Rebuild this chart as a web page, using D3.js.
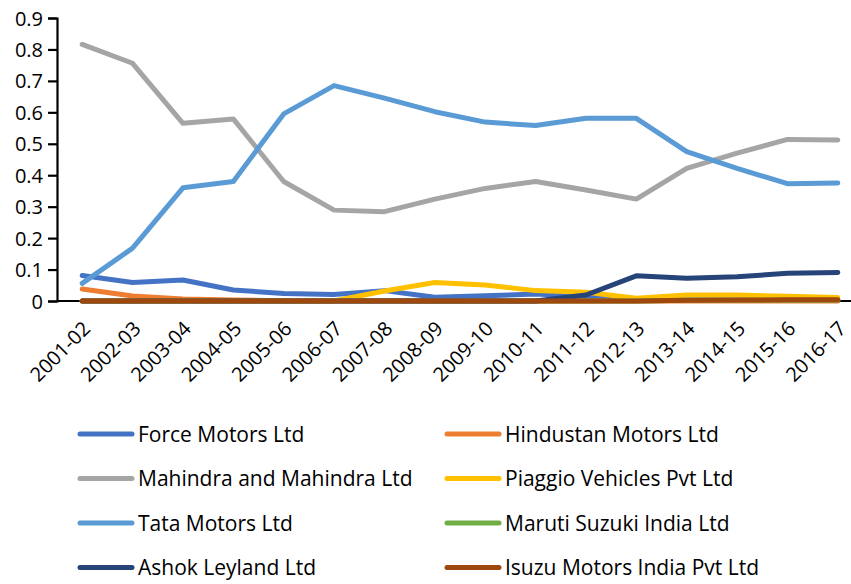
<!DOCTYPE html>
<html>
<head>
<meta charset="utf-8">
<script src="https://cdn.jsdelivr.net/npm/d3@7"></script>
<style>
    body { margin: 0; background: #fff; }
    svg text { font-family: "Open Sans", "Noto Sans", sans-serif; fill: #000; }
</style>
</head>
<body>
<svg id="chart" width="851" height="584"></svg>
<script>
// fiscal years on the x axis
const years = ['2001-02', '2002-03', '2003-04', '2004-05', '2005-06', '2006-07', '2007-08', '2008-09',
    '2009-10', '2010-11', '2011-12', '2012-13', '2013-14', '2014-15', '2015-16', '2016-17'];

const yTicks = [0, 0.1, 0.2, 0.3, 0.4, 0.5, 0.6, 0.7, 0.8, 0.9];

// share values
const forceMotors = [0.081, 0.059, 0.067, 0.035, 0.024, 0.021, 0.033, 0.012, 0.017, 0.022, 0.014, 0.004, 0.003, 0.003, 0.003, 0.003];
const hindustanMotors = [0.038, 0.016, 0.006, 0.003, 0.001, 0.001, 0.001, 0, 0, 0, 0, 0, 0, 0, 0, 0];
const mahindra = [0.816, 0.756, 0.565, 0.579, 0.38, 0.289, 0.284, 0.324, 0.358, 0.38, 0.353, 0.324, 0.422, 0.47, 0.514, 0.512];
const piaggio = [0, 0, 0, 0, 0, 0, 0.032, 0.059, 0.051, 0.033, 0.028, 0.009, 0.019, 0.019, 0.015, 0.011];
const tataMotors = [0.056, 0.168, 0.36, 0.38, 0.595, 0.685, 0.645, 0.602, 0.569, 0.558, 0.581, 0.581, 0.475, 0.422, 0.373, 0.375];
const maruti = [0, 0, 0, 0, 0, 0, 0, 0, 0, 0, 0, 0, 0.002, 0.002, 0.002, 0.002];
const ashokLeyland = [0, 0, 0, 0, 0, 0, 0, 0, 0, 0, 0.019, 0.08, 0.072, 0.077, 0.088, 0.091];
const isuzu = [0, 0, 0, 0, 0, 0, 0, 0, 0, 0, 0, 0, 0.002, 0.003, 0.004, 0.004];

const series = [
    { name: 'Force Motors Ltd', values: forceMotors, color: '#4472C4' },
    { name: 'Hindustan Motors Ltd', values: hindustanMotors, color: '#ED7D31' },
    { name: 'Mahindra and Mahindra Ltd', values: mahindra, color: '#A5A5A5' },
    { name: 'Piaggio Vehicles Pvt Ltd', values: piaggio, color: '#FFC000' },
    { name: 'Tata Motors Ltd', values: tataMotors, color: '#5B9BD5' },
    { name: 'Maruti Suzuki India Ltd', values: maruti, color: '#70AD47' },
    { name: 'Ashok Leyland Ltd', values: ashokLeyland, color: '#264478' },
    { name: 'Isuzu Motors India Pvt Ltd', values: isuzu, color: '#9E480E' },
];

const svg = d3.select('#chart');
const plot = { left: 57, right: 863, top: 18, bottom: 301 };

const x = d3.scalePoint().domain(years).range([plot.left, plot.right]).padding(0.5);
const y = d3.scaleLinear().domain([0, 0.9]).range([plot.bottom, plot.top]);

// y axis
const yAxis = svg.append('g')
    .attr('transform', `translate(${plot.left},0)`)
    .call(d3.axisLeft(y).tickValues(yTicks).tickFormat((d) => (d === 0 ? '0' : d3.format('.1f')(d))).tickSize(9).tickPadding(5));
yAxis.select('.domain').attr('stroke', '#000').attr('stroke-width', 2.2);
yAxis.selectAll('.tick line').attr('stroke', '#000').attr('stroke-width', 2.2);
yAxis.selectAll('.tick text').attr('font-size', 20).attr('dy', '0.35em');

// x axis, labels only, rotated
const xAxis = svg.append('g')
    .attr('transform', `translate(0,${plot.bottom})`)
    .call(d3.axisBottom(x).tickSize(0).tickSizeOuter(0));
xAxis.select('.domain').attr('d', `M${plot.left},0H851`).attr('stroke', '#000').attr('stroke-width', 2.2);
xAxis.selectAll('.tick text')
    .attr('font-size', 20)
    .attr('text-anchor', 'end')
    .attr('dy', 0)
    .attr('y', 0)
    .attr('transform', 'translate(9,29) rotate(-45)');

// lines
const line = d3.line()
    .x((d, i) => x(years[i]))
    .y((d) => y(d))
    .curve(d3.curveLinear);

svg.append('g')
    .selectAll('path')
    .data(series)
    .join('path')
    .attr('d', (d) => line(d.values))
    .attr('fill', 'none')
    .attr('stroke', (d) => d.color)
    .attr('stroke-width', 5)
    .attr('stroke-linejoin', 'round')
    .attr('stroke-linecap', 'round');

// legend, two columns
const legend = svg.append('g')
    .selectAll('g')
    .data(series)
    .join('g')
    .attr('transform', (d, i) => `translate(${i % 2 === 0 ? 80 : 447},${434 + Math.floor(i / 2) * 44.5})`);

legend.append('line')
    .attr('x1', 0).attr('x2', 52)
    .attr('stroke', (d) => d.color)
    .attr('stroke-width', 5)
    .attr('stroke-linecap', 'round');

legend.append('text')
    .attr('x', 58)
    .attr('dy', '0.36em')
    .attr('font-size', 21)
    .text((d) => d.name);
</script>
</body>
</html>
